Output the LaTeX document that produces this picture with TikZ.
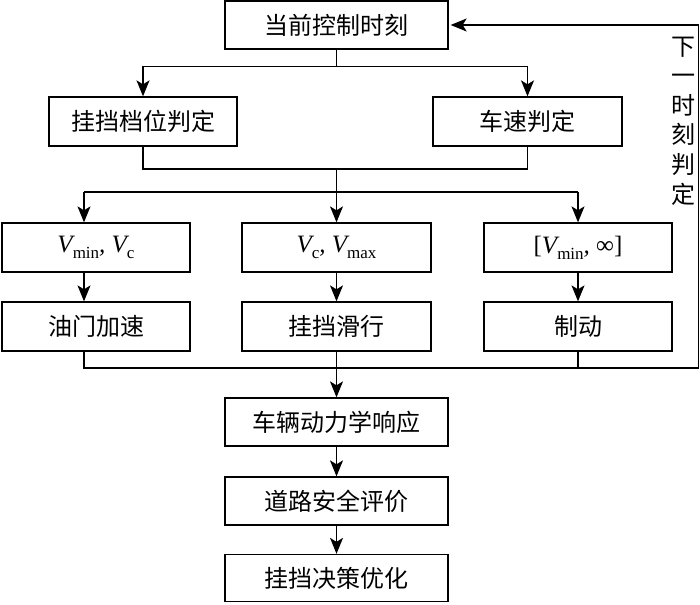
\documentclass[tikz,border=0pt]{standalone}
\usepackage{fontspec}
\setmainfont{Liberation Serif}
\newfontfamily\cjk{Noto Sans CJK SC}
\usetikzlibrary{arrows.meta,calc}
\newcommand{\sbs}[1]{\raisebox{-0.25em}{\fontsize{17}{17}\selectfont\upshape #1}}
\newcommand{\mt}[1]{{\rmfamily\fontsize{25}{28}\selectfont #1}}
\begin{document}
\begin{tikzpicture}[x=1pt,y=1pt,
 box/.style={draw=black,line width=1.3pt,inner sep=0pt,font=\cjk\fontsize{24}{28}\selectfont},
 arr/.style={-{Stealth[length=16pt,width=13pt,inset=4pt]},line width=1.3pt},
 ln/.style={line width=1.3pt},
 lab/.style={font=\cjk\fontsize{24}{29.6}\selectfont,align=center,inner sep=0pt}]
\useasboundingbox (0,0) rectangle (700,-604);
% nodes
\node[box,minimum width=223pt,minimum height=48pt] (top) at (336.5,-25) {当前控制时刻};
\node[box,minimum width=188pt,minimum height=49pt] (gear) at (143,-121.5) {挂挡档位判定};
\node[box,minimum width=189pt,minimum height=49pt] (speed) at (527.5,-121.5) {车速判定};
\node[box,minimum width=188pt,minimum height=49pt] (r3a) at (96,-247.5) {\mt{\itshape V\sbs{min}, \itshape V\sbs{c}}};
\node[box,minimum width=189pt,minimum height=49pt] (r3b) at (336.5,-247.5) {\mt{\itshape V\sbs{c}, \itshape V\sbs{max}}};
\node[box,minimum width=188pt,minimum height=49pt] (r3c) at (578,-247.5) {\mt{[\itshape V\sbs{min}, \upshape ∞]}};
\node[box,minimum width=188pt,minimum height=49pt] (r4a) at (96,-326.5) {油门加速};
\node[box,minimum width=189pt,minimum height=49pt] (r4b) at (336.5,-326.5) {挂挡滑行};
\node[box,minimum width=188pt,minimum height=49pt] (r4c) at (578,-326.5) {制动};
\node[box,minimum width=223pt,minimum height=48pt] (dyn) at (336.5,-422) {车辆动力学响应};
\node[box,minimum width=223pt,minimum height=48pt] (road) at (336.5,-501) {道路安全评价};
\node[box,minimum width=223pt,minimum height=47pt] (opt) at (336.5,-578) {挂挡决策优化};
\node[lab] (fb) at (683,-121) {下\\一\\时\\刻\\判\\定};
% coordinates
\coordinate (xa) at (84,0);
\coordinate (j1) at (336.5,-66.7);
\coordinate (j2) at (336.5,-169);
\coordinate (j3) at (336.5,-192);
\coordinate (j4) at (336.5,-368);
\coordinate (rc) at (698.5,-368);
\coordinate (rt) at (698.5,-25);
% connectors
\draw[ln] (top.south) -- (j1);
\draw[arr] (j1) -| (gear.north);
\draw[arr] (j1) -| (speed.north);
\draw[ln] (gear.south) |- (j2) -| (speed.south);
\draw[ln] (j2) -- (j3);
\draw[ln] (xa |- j3) -- (r3c.north |- j3);
\draw[arr] (xa |- j3) -- (xa |- r3a.north);
\draw[arr] (j3) -- (r3b.north);
\draw[arr] (r3c.north |- j3) -- (r3c.north);
\draw[arr] (xa |- r3a.south) -- (xa |- r4a.north);
\draw[arr] (r3b.south) -- (r4b.north);
\draw[arr] (r3c.south) -- (r4c.north);
\draw[ln] (xa |- r4a.south) |- (rc) -- (rt);
\draw[arr,shorten >=2pt] (rt) -- (top.east);
\draw[ln] (r4b.south) -- (j4);
\draw[ln] (r4c.south) -- (r4c.south |- j4);
\draw[arr] (j4) -- (dyn.north);
\draw[arr] (dyn.south) -- (road.north);
\draw[arr] (road.south) -- (opt.north);
\end{tikzpicture}
\end{document}
